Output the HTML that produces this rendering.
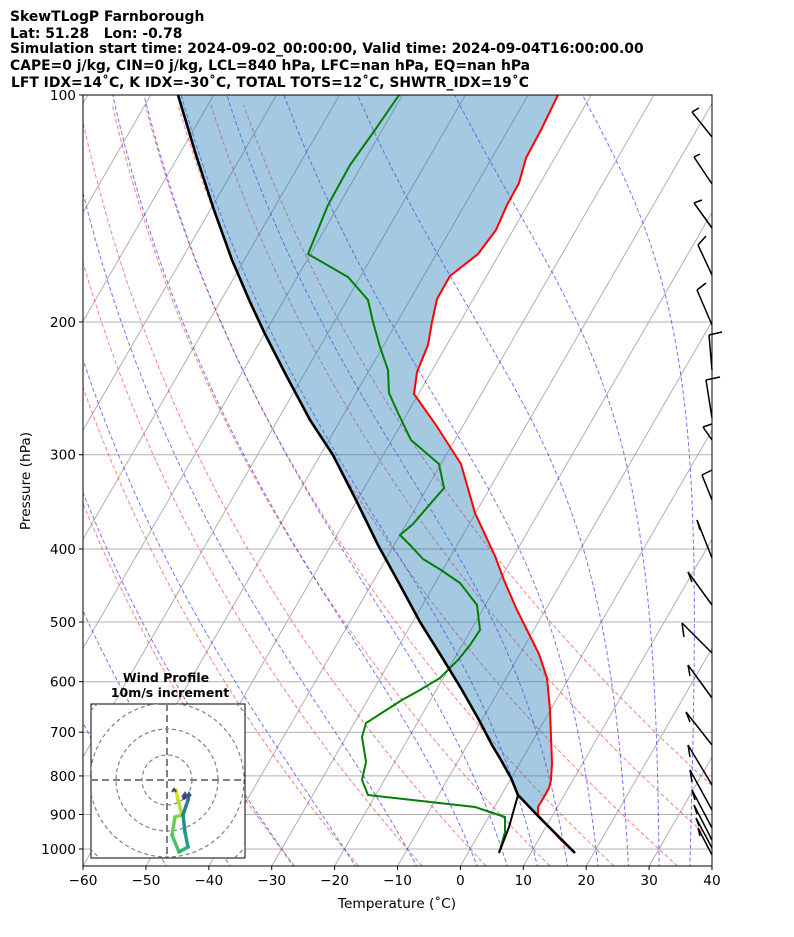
<!DOCTYPE html>
<html><head><meta charset="utf-8"><style>
body{margin:0;background:#fff;width:794px;height:937px;overflow:hidden}
svg{position:absolute;left:0;top:0}
text{font-family:"DejaVu Sans","Liberation Sans",sans-serif}
</style></head><body>
<svg id="s" width="794" height="937" xmlns="http://www.w3.org/2000/svg">
<defs><clipPath id="c"><rect x="83" y="95" width="629" height="771"/></clipPath>
<clipPath id="hc"><rect x="91" y="704" width="154" height="154"/></clipPath></defs>
<g font-weight="bold" font-size="13.9" fill="#000">
<text x="10" y="21">SkewTLogP Farnborough</text>
<text x="10" y="38">Lat: 51.28&#160;&#160;&#160;Lon: -0.78</text>
<text x="10" y="53">Simulation start time: 2024-09-02_00:00:00, Valid time: 2024-09-04T16:00:00.00</text>
<text x="10" y="70">CAPE=0 j/kg, CIN=0 j/kg, LCL=840 hPa, LFC=nan hPa, EQ=nan hPa</text>
<text x="11" y="87">LFT IDX=14˚C, K IDX=-30˚C, TOTAL TOTS=12˚C, SHWTR_IDX=19˚C</text>
</g>
<g id="bg" clip-path="url(#c)"></g>
<g id="data" clip-path="url(#c)"></g>
<rect x="83" y="95" width="629" height="771" fill="none" stroke="#000" stroke-width="1"/>
<g id="ax" font-size="13.7"></g>
<text x="397" y="908" font-size="13.7" text-anchor="middle">Temperature (˚C)</text>
<text transform="translate(30,481) rotate(-90)" font-size="13.7" text-anchor="middle">Pressure (hPa)</text>
<g id="barbs" stroke="#000" stroke-width="1.5" fill="none"></g>
<text x="166" y="682" font-size="12.5" font-weight="bold" text-anchor="middle">Wind Profile</text>
<text x="170" y="697" font-size="12.5" font-weight="bold" text-anchor="middle">10m/s increment</text>
<rect x="91" y="704" width="154" height="154" fill="#fff" stroke="#000" stroke-width="1"/>
<g id="hodo" clip-path="url(#hc)"></g>
</svg>
<script>
const NS="http://www.w3.org/2000/svg";
function el(par,tag,a){const e=document.createElementNS(NS,tag);for(const k in a)e.setAttribute(k,a[k]);par.appendChild(e);return e;}
const Y=p=>95+754*Math.log10(p/100);
const X=(T,p)=>83+(T+60)*6.29+(866-Y(p))*0.5774;
const bg=document.getElementById('bg');
for(let p=100;p<=1000;p+=100)el(bg,'line',{x1:83,x2:712,y1:Y(p),y2:Y(p),stroke:'#b0b0b0','stroke-width':1});
for(let T=-160;T<=40;T+=10){el(bg,'line',{x1:X(T,1053),y1:866,x2:X(T,100),y2:95,stroke:'#b0b0b0','stroke-width':1});}
const ps=[];for(let p=1053;p>=99;p-=5)ps.push(p);
function path(pts){return pts.map((q,i)=>(i?'L':'M')+q[0].toFixed(1)+' '+q[1].toFixed(1)).join('');}
for(let t=-30;t<=50;t+=10){const th=t+273.15;const pts=ps.map(p=>[X(th*Math.pow(p/1000,0.2857)-273.15,p),Y(p)]);
el(bg,'path',{d:path(pts),fill:'none',stroke:'#ff0000','stroke-opacity':0.5,'stroke-width':1,'stroke-dasharray':'4,2.5'});}
function es(T){return 6.112*Math.exp(17.67*T/(T+243.5));}
function dTdp(T,p){const Tk=T+273.15;const rs=0.622*es(T)/(p-es(T));const Lv=2.501e6,Rd=287.04,cp=1005.7;
return (Rd*Tk+Lv*rs)/(cp+Lv*Lv*rs*0.622/(Rd*Tk*Tk))/p;}
function moist(T0){const up=[],dn=[];let T=T0;for(let p=1000;p>=100;p-=2){up.push([p,T]);T-=dTdp(T,p)*2;}
T=T0;for(let p=1000;p<=1060;p+=2){dn.push([p,T]);T+=dTdp(T,p)*2;}
return dn.reverse().concat(up).map(q=>[X(q[1],q[0]),Y(q[0])]);}
const mt=[-50,-40,-30,-20,-10,0,5,10,15,20,25,30,35,40,45];
for(const t of mt)el(bg,'path',{d:path(moist(t)),fill:'none',stroke:'#0000ff','stroke-opacity':0.55,'stroke-width':1,'stroke-dasharray':'4,2.5'});
const d=document.getElementById('data');
const red=[[558,95],[541,130],[526,158],[519,183],[507,205],[496,230],[478,254],[450,276],[437,299],[432,322],[428,345],[417,372],[414,394],[436,425],[461,464],[475,513],[495,556],[504,580],[516,608],[528,632],[539,654],[547,678],[550,710],[552,763],[551,780],[549,788],[544,797],[538,807],[538,815],[549,827],[561,840],[575,853]];
const par=[[178,95],[196,155],[214,210],[232,260],[250,302],[265,334],[286,375],[310,420],[333,455],[356,500],[378,545],[400,585],[420,622],[440,654],[462,690],[479,720],[492,745],[501,760],[511,778],[518,795],[539,817],[575,853]];
let fillPts=red.slice(0,30).concat([[538,815]]);
const parUp=par.slice(0,20).reverse();
el(d,'path',{d:path(fillPts.concat(parUp))+'Z',fill:'#1f77b4','fill-opacity':0.4,stroke:'none'});
const grn=[[399,95],[375,130],[350,165],[328,205],[308,254],[348,277],[368,300],[373,322],[380,347],[388,370],[389,393],[398,413],[411,440],[439,464],[444,488],[425,510],[413,524],[400,535],[410,545],[423,559],[441,570],[460,583],[477,605],[480,630],[470,645],[458,660],[440,678],[420,690],[402,700],[366,723],[362,737],[366,762],[362,780],[368,795],[475,807],[505,817],[505,832],[499,853]];
el(d,'path',{d:path(grn),fill:'none',stroke:'#008000','stroke-width':2});
el(d,'path',{d:path(red),fill:'none',stroke:'#ff0000','stroke-width':2});
el(d,'path',{d:path(par),fill:'none',stroke:'#000','stroke-width':2.6});
el(d,'path',{d:path([[518,795],[509,827],[499,853]]),fill:'none',stroke:'#000','stroke-width':2});
const ax=document.getElementById('ax');
for(let T=-60;T<=40;T+=10){const x=83+(T+60)*6.29;el(ax,'line',{x1:x,x2:x,y1:866,y2:870,stroke:'#000'});
const t=el(ax,'text',{x:x,y:885,'text-anchor':'middle'});t.textContent=(T<0?'\u2212'+(-T):T);}
for(let p=100;p<=1000;p+=100){el(ax,'line',{x1:79,x2:83,y1:Y(p),y2:Y(p),stroke:'#000'});
const t=el(ax,'text',{x:76,y:Y(p)+5,'text-anchor':'end'});t.textContent=p;}
const bb=document.getElementById('barbs');
const B=[[112,137,[[692,112,699,108]]],[157,184,[[694,157,700,154]]],[203,228,[[694,203,702,200]]],[245,275,[[698,245,706,236]]],[290,325,[[697,290,706,283]]],[335,370,[[709,335,722,332]]],[380,418,[[706,380,720,377]]],[427,440,[[703,427,712,424]]],[475,500,[[702,475,712,470]]],[520,558,[[697,520,700,530]]],[572,605,[[688,572,692,582]]],[623,653,[[682,623,684,637]]],[665,698,[[688,665,690,676]]],[712,745,[[686,712,690,722]]],[745,785,[[688,745,690,757]]],[770,810,[[690,770,692,782]]],[790,828,[[692,790,695,800]]],[805,840,[[694,805,697,814]]],[818,848,[[696,818,699,826]]],[828,855,[[698,828,700,836]]]];
for(const b of B){const tip=b[2][0];const y0=b[1];el(bb,'line',{x1:712,y1:y0,x2:tip[0],y2:tip[1]});el(bb,'line',{x1:tip[0],y1:tip[1],x2:tip[2],y2:tip[3]});}
const h=document.getElementById('hodo');
for(const r of [25,51,77,103])el(h,'circle',{cx:167,cy:780,r:r,fill:'none',stroke:'#808080','stroke-width':1.2,'stroke-dasharray':'4,3'});
el(h,'line',{x1:91,x2:245,y1:780,y2:780,stroke:'#808080','stroke-width':2,'stroke-dasharray':'7,4'});
el(h,'line',{x1:167,x2:167,y1:704,y2:858,stroke:'#808080','stroke-width':2,'stroke-dasharray':'7,4'});
const hp=[[176,790],[178,800],[182,815],[175,817],[172,835],[179,852],[188,847],[185,832],[183,815],[188,800],[189,795],[186,796],[184,798]];
const cols=['#d8e219','#b5de2b','#90d743','#6ccd5a','#4ac16d','#2db27d','#1fa187','#21918c','#26828e','#2c728e','#3b528b','#472d7b','#440154'];
for(let i=0;i<hp.length-1;i++)el(h,'line',{x1:hp[i][0],y1:hp[i][1],x2:hp[i+1][0],y2:hp[i+1][1],stroke:cols[i],'stroke-width':3.5,'stroke-linecap':'round'});
el(h,'path',{d:'M182 797l3 -4l2 4l2 -4l2 3',stroke:'#3b528b','stroke-width':2,fill:'none'});
el(h,'path',{d:'M172 792l2 -3l2 3',stroke:'#472d7b','stroke-width':2,fill:'none'});
</script>
</body></html>
